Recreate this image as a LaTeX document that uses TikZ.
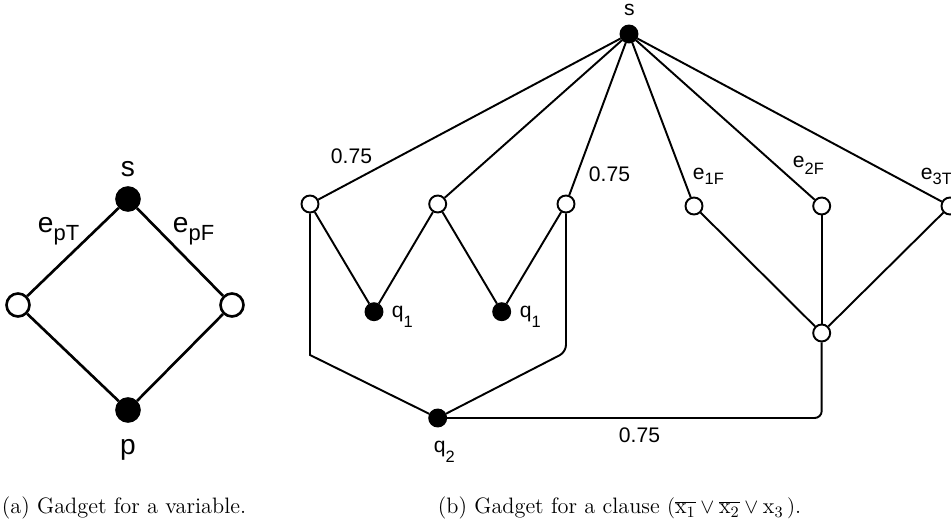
\documentclass[tikz,border=0pt]{standalone}
\usepackage{fontspec}
\setsansfont{Liberation Sans}
\usetikzlibrary{positioning}

% lowered, shrunk index for the sans labels
\newcommand{\lsub}[2][.25em]{\raisebox{-#1}{\scalebox{.78}{#2}}}

\begin{document}
\begin{tikzpicture}[
  x=0.02cm, y=-0.02cm,
  vtx/.style={circle, draw, inner sep=0pt, minimum size=.34cm, line width=1.1pt},
  blackv/.style={vtx, fill=black},
  whitev/.style={vtx, fill=white},
  big/.style={minimum size=.46cm, line width=1.5pt},
  lbl/.style={font=\sffamily\fontsize{12}{14}\selectfont, inner sep=0pt},
  biglbl/.style={font=\sffamily\fontsize{16}{19}\selectfont, inner sep=0pt},
  captext/.style={font=\fontsize{12.7}{15}\selectfont, anchor=base west, inner sep=0pt},
  line width=1.1pt]

  \useasboundingbox (0,0) rectangle (951,523);

  % variable gadget
  \node[blackv, big] (s) at (128,199) {};
  \node[whitev, big] (t) at (18,305) {};
  \node[whitev, big] (f) at (232,305) {};
  \node[blackv, big] (p) at (128,410) {};
  \draw[line width=1.5pt] (s) -- (t) -- (p) -- (f) -- (s);
  \node[biglbl, anchor=base] (slbl) at (128,177) {s};
  \node[biglbl, anchor=base] (plbl) at (128,455) {p};
  \node[biglbl, anchor=base west] (eT) at (37,233) {e\lsub{pT}};
  \node[biglbl, anchor=base west] (eF) at (172,233) {e\lsub{pF}};

  % clause gadget
  \node[blackv] (s2) at (629,34) {};
  \node[whitev] (a1) at (310,204) {};
  \node[whitev] (a2) at (437.7,204) {};
  \node[whitev] (a3) at (566,204) {};
  \node[whitev] (b1) at (694,206) {};
  \node[whitev] (b2) at (821.7,206) {};
  \node[whitev] (b3) at (950,206) {};
  \node[blackv] (q1a) at (374,311.7) {};
  \node[blackv] (q1b) at (501.7,311.7) {};
  \node[blackv] (q2) at (437.7,418) {};
  \node[whitev] (m) at (821.7,333) {};
  \coordinate (cl) at (310,355);
  \coordinate (cr) at (566,352);
  \coordinate (cb) at (821.7,418);

  \foreach \n in {a1,a2,a3,b1,b2,b3}
    \draw (s2) -- (\n);
  \draw (a1) -- (q1a) -- (a2) -- (q1b) -- (a3);
  \draw (a1) -- (cl) -- (q2);
  \draw[rounded corners=4pt] (a3) -- (cr) -- (q2);
  \draw[rounded corners=4pt] (q2) -- (cb) -- (m);
  \foreach \n in {b1,b2,b3}
    \draw (\n) -- (m);

  \node[lbl, anchor=base] (s2lbl) at (629.5,16) {s};
  \node[lbl, anchor=base west] (w1) at (330,164) {0.75};
  \node[lbl, anchor=base west] (w2) at (588,182) {0.75};
  \node[lbl, anchor=base west] (w3) at (618,443) {0.75};
  \node[lbl, anchor=base west] (e1) at (692,180) {e\lsub[.2em]{1F}};
  \node[lbl, anchor=base west] (e2) at (792,168) {e\lsub[.3em]{2F}};
  \node[lbl, anchor=base west] (e3) at (920,180) {e\lsub[.2em]{3T}};
  \node[lbl, anchor=base west] (q1albl) at (391,318) {q\lsub[.45em]{1}};
  \node[lbl, anchor=base west] (q1blbl) at (519,318) {q\lsub[.45em]{1}};
  \node[lbl, anchor=base west] (q2lbl) at (433,453) {q\lsub[.45em]{2}};

  % captions
  \node[captext] (capa) at (1,514) {(a) Gadget for a variable.};
  \node[captext] (capb) at (437,514)
    {(b) Gadget for a clause $(\overline{\mathrm{x}_1}\vee\overline{\mathrm{x}_2}\vee\mathrm{x}_3\,)$.};
\end{tikzpicture}
\end{document}
